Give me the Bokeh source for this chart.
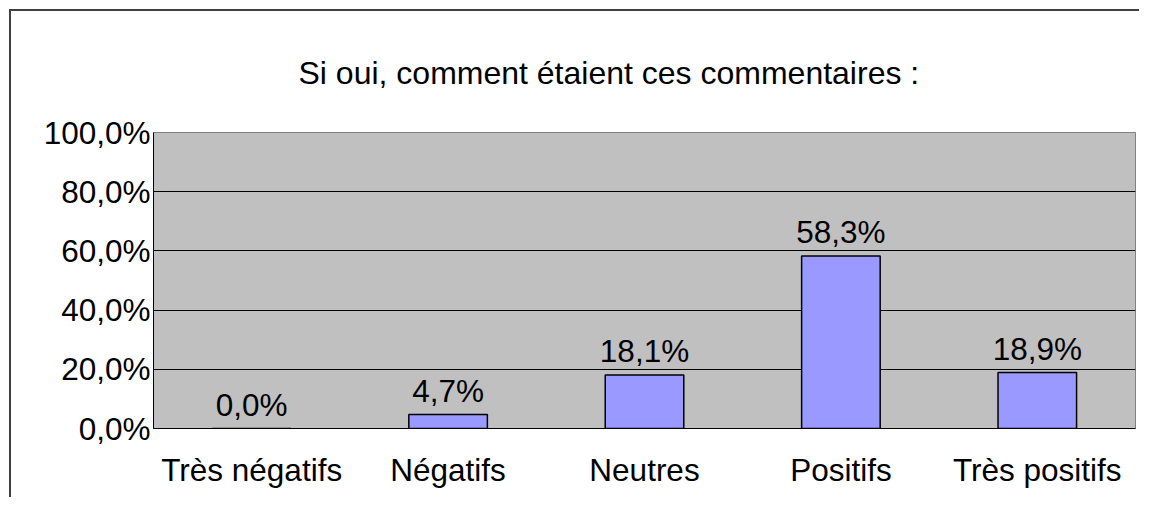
from bokeh.plotting import figure
from bokeh.models import ColumnDataSource, CustomJSTickFormatter, FixedTicker, Range1d, Title
from bokeh.core.properties import value
from bokeh.embed import file_html
from bokeh.resources import INLINE

categories = ["Très négatifs", "Négatifs", "Neutres", "Positifs", "Très positifs"]
values = [0.0, 4.7, 18.1, 58.3, 18.9]
y_ticks = [0, 20, 40, 60, 80, 100]
title_text = "Si oui, comment étaient ces commentaires :"

labels = [f"{v:.1f}".replace(".", ",") + "%" for v in values]
src = ColumnDataSource(dict(cat=categories, val=values, lab=labels))

FONT = "Liberation Sans"
FS = "31.5px"

p = figure(x_range=categories, y_range=Range1d(0, 100), width=1130, height=488,
           output_backend="svg", toolbar_location=None,
           min_border_left=142, min_border_right=6, min_border_top=117, min_border_bottom=71)
p.x_range.range_padding = 0
p.styles = {"border-top": "2px solid #404040", "border-left": "2px solid #404040",
            "margin-left": "9px", "margin-top": "9px"}

t = Title(text=title_text, align="left", offset=145, text_font=FONT, text_font_size="32px",
          text_font_style="normal", text_color="black", standoff=83)
p.add_layout(t, "above")

p.background_fill_color = "#C0C0C0"
p.border_fill_color = "white"
p.outline_line_color = "#808080"
p.outline_line_width = 1

p.vbar(x="cat", top="val", width=0.4, source=src, fill_color="#9999FF",
       line_color="black", line_width=1.5)
p.text(x="cat", y="val", text="lab", source=src, text_align="center",
       text_baseline="alphabetic", y_offset=-24, text_font=value(FONT),
       text_font_size=FS, text_color="black")

p.xgrid.grid_line_color = None
p.ygrid.grid_line_color = "black"
p.ygrid.grid_line_width = 1
p.yaxis.ticker = FixedTicker(ticks=y_ticks)
p.yaxis.formatter = CustomJSTickFormatter(code="return tick.toFixed(1).replace('.', ',') + '%';")

for ax in (p.xaxis[0], p.yaxis[0]):
    ax.axis_line_color = "black"
    ax.axis_line_width = 1
    ax.major_tick_line_color = None
    ax.minor_tick_line_color = None
    ax.major_tick_out = 0
    ax.major_tick_in = 0
    ax.major_label_text_font = FONT
    ax.major_label_text_font_size = FS
    ax.major_label_text_color = "black"
p.xaxis.major_label_standoff = 23
p.yaxis.major_label_standoff = 3

open("out.html", "w").write(file_html(p, INLINE))
